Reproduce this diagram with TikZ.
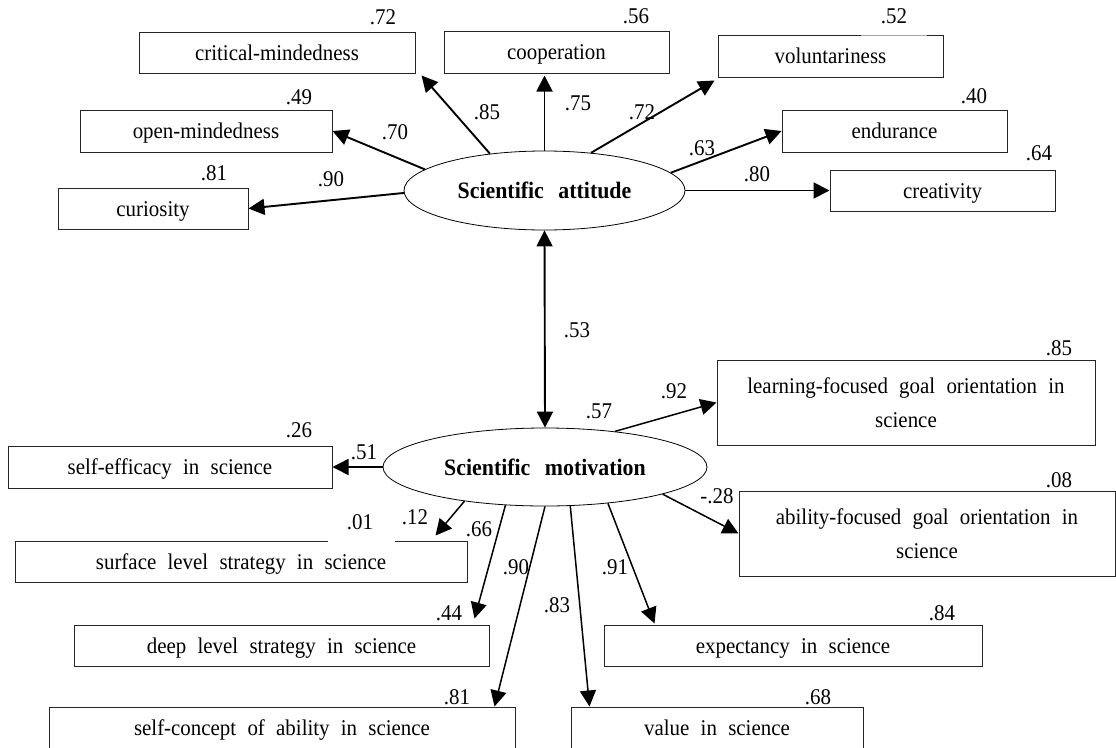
\documentclass[tikz,border=0pt]{standalone}
\usepackage{fontspec}
\setmainfont{Liberation Serif}[FakeStretch=0.93]
\usetikzlibrary{shapes.geometric,arrows.meta,calc}
\newcommand\dtxt{\fontsize{22.5}{34}\selectfont\spaceskip=0.5em\relax}
\newcommand\dbf{\fontsize{23.5}{26}\selectfont\bfseries\spaceskip=0.62em\relax}
\begin{document}
\begin{tikzpicture}[x=1pt,y=-1pt,
  box/.style={draw=black!85, line width=1pt, rectangle, inner sep=0pt, align=center, font=\dtxt, text height=15.5pt, text depth=0pt},
  twoline/.style={text height=49.5pt, text depth=0pt},
  lat/.style={draw=black, line width=0.8pt, ellipse, inner sep=0pt, font=\dbf, text height=16pt, text depth=0pt},
  coef/.style={inner sep=0pt, font=\dtxt},
  tip/.tip={Triangle[length=16pt,width=16pt]},
  arr/.style={line width=1.9pt, -tip},
  arrb/.style={line width=1.5pt, -tip},
]
\fill[white] (0,0) rectangle (1116,747);
\useasboundingbox (0,0) rectangle (1116,747);

% latent variables
\node[lat, minimum width=281pt, minimum height=79pt] (att) at (544.5,190.5) {Scientific attitude};
\node[lat, minimum width=324pt, minimum height=78pt] (mot) at (545,467) {Scientific motivation};

% indicators of attitude
\node[box, minimum width=276pt, minimum height=41pt] (crit) at (277,52.5) {critical-mindedness};
\node[box, minimum width=225pt, minimum height=42pt] (coop) at (556.5,52) {cooperation};
\node[box, minimum width=225pt, minimum height=42pt] (volt) at (830.5,56) {voluntariness};
\node[box, minimum width=252pt, minimum height=42pt] (open) at (206,131) {open-mindedness};
\node[box, minimum width=225pt, minimum height=42pt] (endu) at (894.5,131) {endurance};
\node[box, minimum width=190pt, minimum height=41pt] (curi) at (153,208.5) {curiosity};
\node[box, minimum width=225pt, minimum height=41pt] (crea) at (942.5,190.5) {creativity};

% indicators of motivation
\node[box, twoline, minimum width=378pt, minimum height=85pt] (learn) at (906,402.5) {learning-focused goal orientation in\\science};
\node[box, twoline, minimum width=376pt, minimum height=85pt] (abil) at (927,533.5) {ability-focused goal orientation in\\science};
\node[box, minimum width=324pt, minimum height=42pt] (effi) at (170,467) {self-efficacy in science};
\node[box, minimum width=452pt, minimum height=41pt] (surf) at (241,561.5) {surface level strategy in science};
\node[box, minimum width=415pt, minimum height=41pt] (deep) at (281.5,645.5) {deep level strategy in science};
\node[box, minimum width=378pt, minimum height=41pt] (expe) at (793,645.5) {expectancy in science};
\node[box, minimum width=466pt, minimum height=42pt] (conc) at (282,728) {self-concept of ability in science};
\node[box, minimum width=292pt, minimum height=42pt] (valu) at (717,728) {value in science};

% gaps in box borders
\draw[white, line width=1.6pt] (861,35) -- (927,35);
\draw[black!35, line width=0.8pt] (861,35) -- (927,35);
\draw[white, line width=1.6pt] (328,541) -- (395,541);

% connectors
\draw[arr] (att.146) -- ($(crit.south east)+(6pt,-2pt)$);
\draw[arr] (att.north) -- ($(att.north |- coop.south)+(0pt,-2pt)$);
\draw[arr] (att.39.5) -- ($(volt.south west)+(-3pt,-3pt)$);
\draw[arr] (att.170) -- (open.east);
\draw[arr] (att.181) -- (curi.east);
\draw[arr] (att.8.4) -- (endu.west);
\draw[arr] (att.east) -- (crea.west);
\draw[line width=1.9pt, tip-tip] (att.south) -- (mot.north);
\draw[arrb] (mot.27.2) -- (learn.west);
\draw[arrb] (mot.-13.2) -- (abil.west);
\draw[arrb] (mot.west) -- (effi.east);
\draw[arrb] (mot.203.4) -- ($(surf.north east)+(-32pt,5pt)$);
\draw[arrb] (mot.224.3) -- ($(deep.north east)+(-15pt,6pt)$);
\draw[arrb] (mot.south) -- ($(conc.north east)+(-21pt,0pt)$);
\draw[arrb] (mot.-57) -- ($(valu.north west)+(19pt,0pt)$);
\draw[arrb] (mot.-30) -- ($(expe.north west)+(51pt,1pt)$);

% coefficients
\node[coef] (e1) at (383,17) {.72};
\node[coef] (e2) at (636,16) {.56};
\node[coef] (e3) at (894,16) {.52};
\node[coef] (e4) at (299,97) {.49};
\node[coef] (e5) at (974,96) {.40};
\node[coef] (e6) at (214,173) {.81};
\node[coef] (e7) at (1039,153) {.64};
\node[coef] (l1) at (331,179) {.90};
\node[coef] (l2) at (395,132) {.70};
\node[coef] (l3) at (487,112) {.85};
\node[coef] (l4) at (578,103) {.75};
\node[coef] (l5) at (642,112) {.72};
\node[coef] (l6) at (702,148) {.63};
\node[coef] (l7) at (757,174) {.80};
\node[coef] (r0) at (577,330) {.53};
\node[coef] (e8) at (1059,348) {.85};
\node[coef] (m1) at (674,391) {.92};
\node[coef] (m2) at (599,411) {.57};
\node[coef] (e9) at (299,430) {.26};
\node[coef] (m3) at (364,452) {.51};
\node[coef] (e10) at (1059,480) {.08};
\node[coef] (m4) at (717,496) {-.28};
\node[coef] (e11) at (360,522) {.01};
\node[coef] (m5) at (415,517) {.12};
\node[coef] (m6) at (479,529) {.66};
\node[coef] (m7) at (516,567) {.90};
\node[coef] (m8) at (615,567) {.91};
\node[coef] (m9) at (557,605) {.83};
\node[coef] (e12) at (449,613) {.44};
\node[coef] (e13) at (942,613) {.84};
\node[coef] (e14) at (457,697) {.81};
\node[coef] (e15) at (818,697) {.68};
\end{tikzpicture}
\end{document}
